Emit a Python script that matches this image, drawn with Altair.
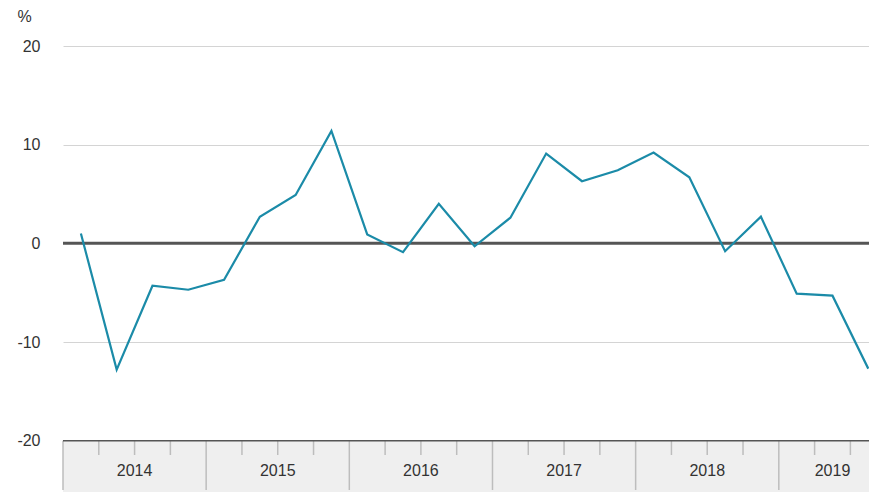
import altair as alt
import pandas as pd
import numpy as np

# Quarterly change, %, 2014Q1 .. 2019Q3
quarters = [f"{y}Q{q}" for y in range(2014, 2020) for q in range(1, 5)][:23]
values = [1.0, -12.8, -4.3, -4.7, -3.7, 2.7, 4.9, 11.4, 0.9, -0.9, 4.0, -0.3,
          2.6, 9.1, 6.3, 7.4, 9.2, 6.7, -0.8, 2.7, -5.1, -5.3, -12.7]
years = ["2014", "2015", "2016", "2017", "2018", "2019"]
quarters_per_year = [4, 4, 4, 4, 4, 3]
y_ticks = [-20, -10, 0, 10, 20]

X_DOMAIN = [0, 22.52]
Y_DOMAIN = [-25.2, 20]
FONT = "Liberation Sans"
LINE_COLOR = "#1b8ba8"

df = pd.DataFrame({"quarter": quarters, "pos": np.arange(len(values)) + 0.5, "value": values})

starts = np.concatenate([[0], np.cumsum(quarters_per_year)[:-1]])
ends = np.cumsum(quarters_per_year)
years_df = pd.DataFrame({"year": years, "start": starts, "mid": (starts + ends) / 2.0})
qticks = [q for q in range(1, int(ends[-1])) if q not in set(starts)]
qticks_df = pd.DataFrame({"q": qticks})

xs = alt.Scale(domain=X_DOMAIN, nice=False, zero=False)
ys = alt.Scale(domain=Y_DOMAIN, nice=False, zero=False)

base_y_axis = alt.Axis(
    values=y_ticks, domain=False, ticks=False, labelPadding=23,
    labelExpr="replace(datum.label, '\u2212', '-')",
    labelFont=FONT, labelFontSize=16, labelColor="#333333",
    grid=True, gridColor="#d4d4d4", gridWidth=1,
    title="%", titleAngle=0, titleAlign="left", titleBaseline="alphabetic",
    titleX=-46, titleY=-25, titleFont=FONT, titleFontSize=16,
    titleFontWeight="normal", titleColor="#333333",
)

line = alt.Chart(df).mark_line(color=LINE_COLOR, strokeWidth=2.2, clip=True).encode(
    x=alt.X("pos:Q", scale=xs, axis=None),
    y=alt.Y("value:Q", scale=ys, axis=base_y_axis),
)

zero = alt.Chart(pd.DataFrame({"v": [0]})).mark_rule(color="#555555", strokeWidth=3).encode(
    y=alt.Y("v:Q", scale=ys),
)

band_df = pd.DataFrame({"x0": [X_DOMAIN[0]], "x1": [X_DOMAIN[1]], "y0": [Y_DOMAIN[0]], "y1": [-20]})
band = alt.Chart(band_df).mark_rect(color="#efefef").encode(
    x=alt.X("x0:Q", scale=xs, axis=None), x2="x1:Q",
    y=alt.Y("y0:Q", scale=ys), y2="y1:Q",
)

band_top = alt.Chart(pd.DataFrame({"v": [-20]})).mark_rule(color="#555555", strokeWidth=1.6).encode(
    y=alt.Y("v:Q", scale=ys),
)

sep_df = years_df.assign(y0=-20, y1=-25.0)
seps = alt.Chart(sep_df).mark_rule(color="#bdbdbd", strokeWidth=1.5).encode(
    x=alt.X("start:Q", scale=xs, axis=None),
    y=alt.Y("y0:Q", scale=ys), y2="y1:Q",
)

qt_df = qticks_df.assign(y0=-20, y1=-21.45)
qts = alt.Chart(qt_df).mark_rule(color="#bdbdbd", strokeWidth=1.5).encode(
    x=alt.X("q:Q", scale=xs, axis=None),
    y=alt.Y("y0:Q", scale=ys), y2="y1:Q",
)

labels_df = years_df.assign(ly=-23.1)
labels = alt.Chart(labels_df).mark_text(
    font=FONT, fontSize=16, color="#333333", baseline="middle", align="center"
).encode(
    x=alt.X("mid:Q", scale=xs, axis=None),
    y=alt.Y("ly:Q", scale=ys),
    text="year:N",
)

chart = alt.layer(band, seps, qts, band_top, zero, line, labels).properties(
    width=806, height=446,
    autosize=alt.AutoSizeParams(type="none"),
    padding={"left": 55, "top": 38, "right": 0, "bottom": 0},
    background="white",
).configure_view(strokeWidth=0)

chart.save("out.html", embed_options={"renderer": "svg", "actions": False})
